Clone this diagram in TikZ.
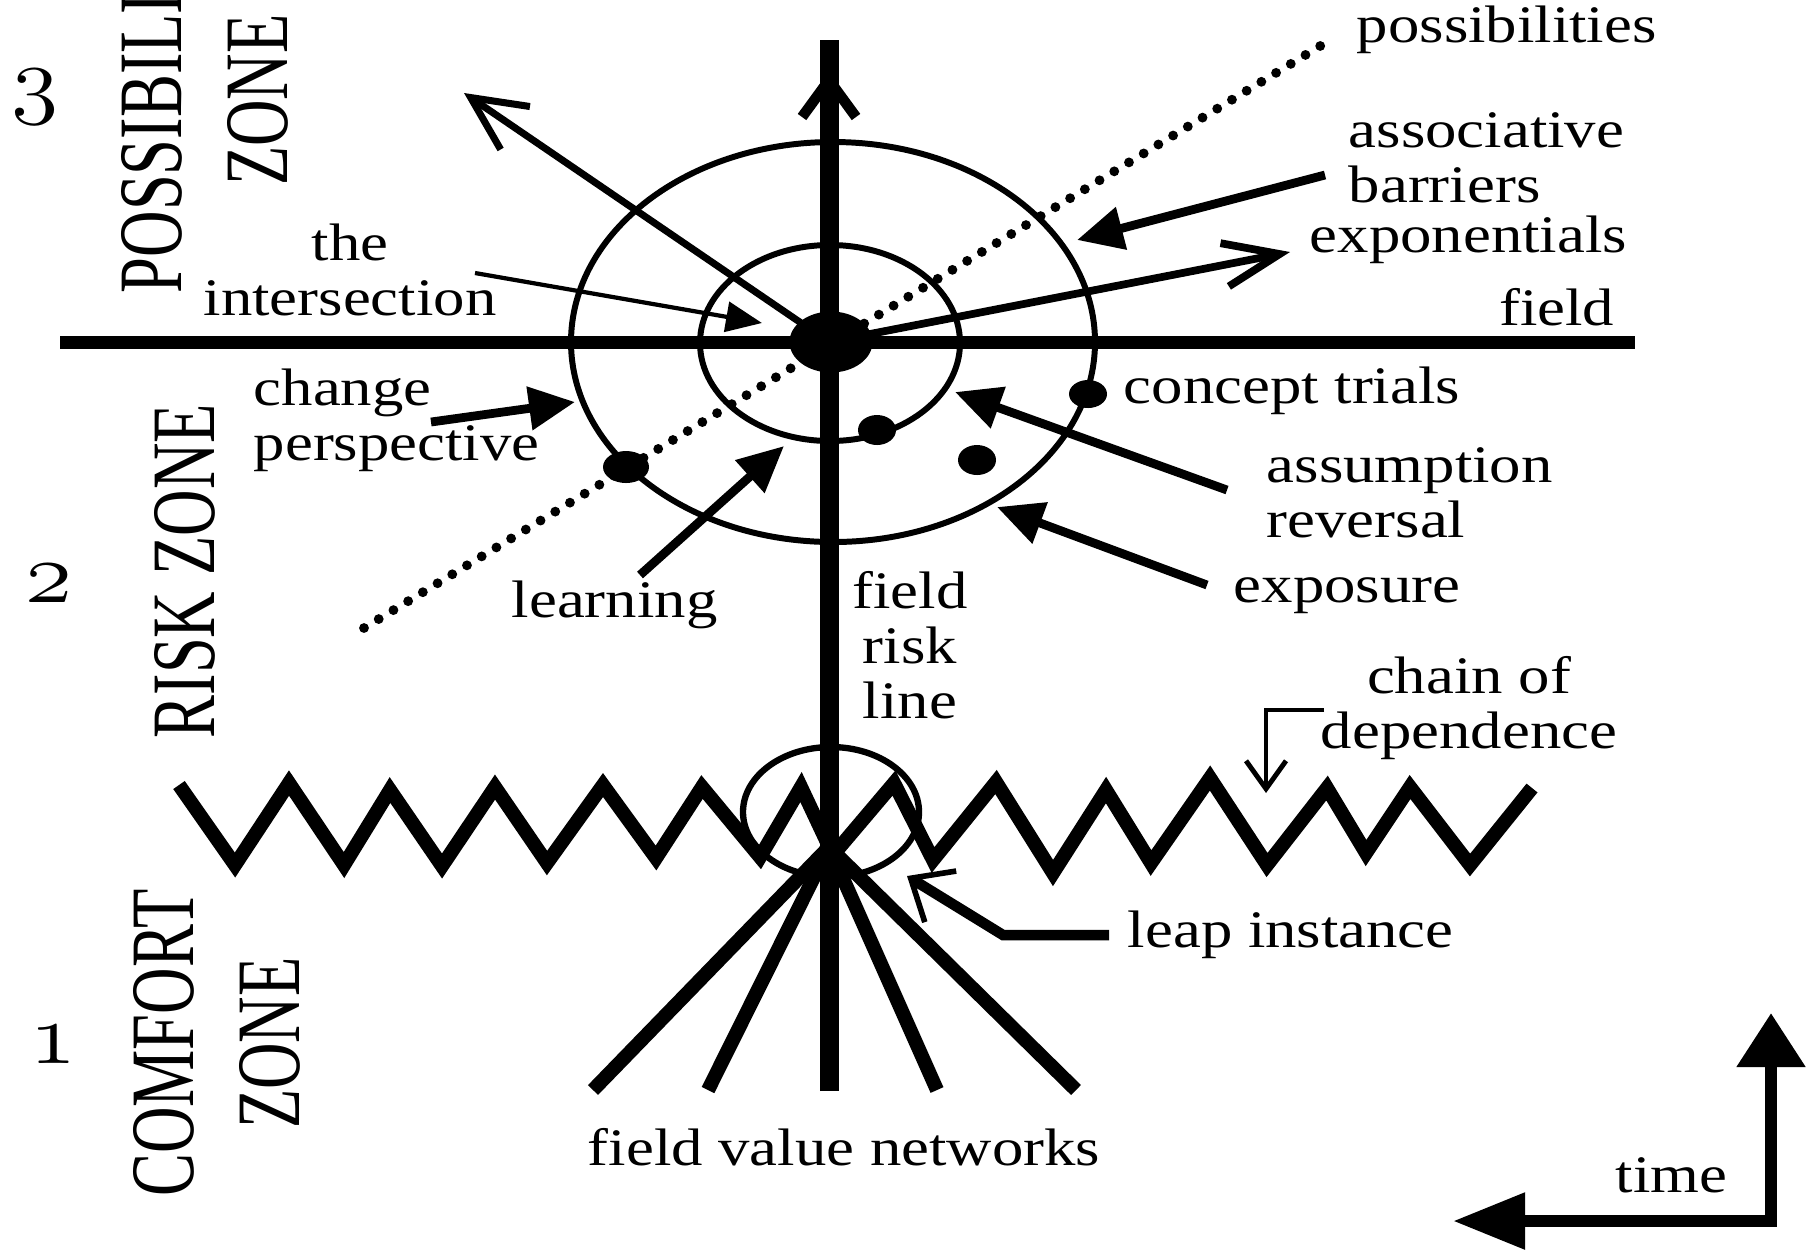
\documentclass[tikz,border=0pt]{standalone}
\usepackage{fontspec}
\setmainfont{Liberation Serif}
\usetikzlibrary{arrows.meta}
\newcommand{\osnum}[1]{{\usefont{OML}{cmm}{m}{it}#1}}
\begin{document}
\begin{tikzpicture}[
  lbl/.style={font=\fontsize{15}{15.65}\selectfont,xscale=1.19,inner sep=0pt},
  zone/.style={font=\fontsize{25.8}{30}\selectfont,rotate=90,xscale=.71,inner sep=0pt,align=center},
  num/.style={font=\fontsize{24}{24}\selectfont,xscale=1.1,inner sep=0pt},
  fillarr/.style={line width=2.5pt,-{Triangle[length=4.6mm,width=4.2mm]}},
  openarr/.style={line width=2pt,-{Straight Barb[length=5.4mm,width=5.2mm]}}]
\useasboundingbox (0,0) rectangle (18.14,-12.49);
\clip (0,0) rectangle (18.14,-12.49);
% zones
\node[zone] (pz) at (2.05,-1.00) {POSSIBILITY\\ZONE};
\node[zone] (rz) at (1.85,-5.71) {RISK ZONE};
\node[zone] (cz) at (2.17,-10.43) {COMFORT\\ZONE};
\node[num] (n3) at (0.35,-0.97) {\osnum{3}};
\node[num] (n2) at (0.49,-5.84) {\osnum{2}};
\node[num] (n1) at (0.53,-10.45) {\osnum{1}};
% rings
\coordinate (o) at (8.29,-3.42);
\draw[line width=1.7pt] (8.33,-3.42) ellipse [x radius=2.62,y radius=2.00];
\draw[line width=1.7pt] (8.30,-3.43) ellipse [x radius=1.30,y radius=0.98];
\draw[line width=2.8pt,line cap=round,dash pattern=on 0pt off 4.9pt] (3.64,-6.28) -- (13.30,-0.40);
% axes
\draw[line width=3.7pt] (0.60,-3.42) -- (16.35,-3.42);
\draw[line width=5.4pt] (8.29,-10.91) -- (8.29,-0.40);
\draw[line width=3pt] (8.02,-1.17) -- (8.29,-0.80) -- (8.56,-1.17);
\fill (8.31,-3.42) ellipse [x radius=0.415,y radius=0.305];
\fill (10.88,-3.94) ellipse [x radius=0.19,y radius=0.14];
\fill (8.77,-4.30) ellipse [x radius=0.19,y radius=0.15];
\fill (9.77,-4.60) ellipse [x radius=0.19,y radius=0.15];
\fill (6.26,-4.67) ellipse [x radius=0.23,y radius=0.16];
\coordinate (ul) at (4.64,-0.93);
\coordinate (ex) at (12.90,-2.52);
\draw[openarr] (o) -- (ul);
\draw[openarr,line width=2.2pt,-{Straight Barb[length=5.6mm,width=4.4mm]}] (o) -- (ex);
% labels
\node[lbl,anchor=base west] (poss) at (13.56,-0.42) {possibilities};
\node[lbl,anchor=base west,align=left] (assoc) at (13.48,-2.02) {associative\\barriers};
\node[lbl,anchor=base west] (expo) at (13.09,-2.52) {exponentials};
\node[lbl,anchor=base east] (fld) at (16.15,-3.25) {field};
\node[lbl,anchor=base west] (trial) at (11.23,-4.03) {concept trials};
\node[lbl,anchor=base west,align=left] (assum) at (12.66,-5.37) {assumption\\reversal};
\node[lbl,anchor=base west] (expos) at (12.33,-6.02) {exposure};
\node[lbl,anchor=base,align=center] (frl) at (9.10,-7.18) {field\\risk\\line};
\node[lbl,anchor=base west] (learn) at (5.11,-6.17) {learning};
\node[lbl,anchor=base west,align=left] (chg) at (2.53,-4.60) {change\\perspective};
\node[lbl,anchor=base,align=center] (inter) at (3.50,-3.15) {the\\intersection};
\node[lbl,anchor=base,align=center] (chain) at (14.69,-7.48) {chain of\\dependence};
\node[lbl,anchor=base west] (leap) at (11.27,-9.47) {leap instance};
\node[lbl,anchor=base] (fvn) at (8.44,-11.65) {field value networks};
\node[lbl,anchor=base west] (time) at (16.15,-11.92) {time};
% pointers
\coordinate (assoc0) at (13.25,-1.75);  \coordinate (assoc1) at (10.77,-2.40);
\coordinate (inter0) at (4.75,-2.73);   \coordinate (inter1) at (7.62,-3.23);
\coordinate (chg0) at (4.31,-4.22);     \coordinate (chg1) at (5.75,-4.02);
\coordinate (learn0) at (6.40,-5.75);   \coordinate (learn1) at (7.84,-4.46);
\coordinate (assum0) at (12.27,-4.90);  \coordinate (assum1) at (9.55,-3.92);
\coordinate (expos0) at (12.07,-5.85);  \coordinate (expos1) at (9.97,-5.07);
\draw[fillarr] (assoc0) -- (assoc1);
\draw[line width=1.2pt,-{Triangle[length=3.6mm,width=3mm]}] (inter0) -- (inter1);
\draw[fillarr] (chg0) -- (chg1);
\draw[fillarr] (learn0) -- (learn1);
\draw[fillarr] (assum0) -- (assum1);
\draw[fillarr] (expos0) -- (expos1);
% chain and leap
\draw[line width=1.8pt] (8.31,-8.12) ellipse [x radius=0.88,y radius=0.65];
\draw[line width=4pt] (1.79,-7.85) -- (2.35,-8.65) -- (2.89,-7.83) -- (3.44,-8.65) -- (3.90,-7.90)
  -- (4.42,-8.66) -- (4.95,-7.87) -- (5.47,-8.63) -- (6.03,-7.85) -- (6.56,-8.58) -- (7.02,-7.87)
  -- (7.60,-8.57) -- (8.01,-7.87) -- (8.33,-8.55) -- (8.94,-7.83) -- (9.33,-8.60) -- (9.96,-7.82)
  -- (10.53,-8.73) -- (11.06,-7.90) -- (11.51,-8.63) -- (12.10,-7.78) -- (12.67,-8.65) -- (13.27,-7.88)
  -- (13.66,-8.53) -- (14.10,-7.87) -- (14.70,-8.65) -- (15.32,-7.88);
\foreach \bx in {5.93,7.08,9.37,10.76}
  \draw[line width=4pt] (8.29,-8.47) -- (\bx,-10.90);
\coordinate (chain0) at (13.24,-7.10);  \coordinate (chain1) at (12.66,-7.93);
\draw[line width=1.4pt,-{Straight Barb[length=2.8mm,width=4mm]}] (chain0) -- (12.66,-7.10) -- (chain1);
\coordinate (leap0) at (11.09,-9.35);   \coordinate (leap1) at (9.07,-8.76);
\draw[line width=3pt,-{Straight Barb[length=3.5mm,width=6mm,line width=1.6pt]}] (leap0) -- (10.03,-9.35) -- (leap1);
% time
\coordinate (tl) at (14.53,-12.21);  \coordinate (tu) at (17.71,-10.13);
\draw[line width=3.4pt,{Triangle[length=7.2mm,width=5.4mm]}-{Triangle[length=5.4mm,width=6.6mm]}] (tl) -- (17.71,-12.21) -- (tu);
\end{tikzpicture}
\end{document}
